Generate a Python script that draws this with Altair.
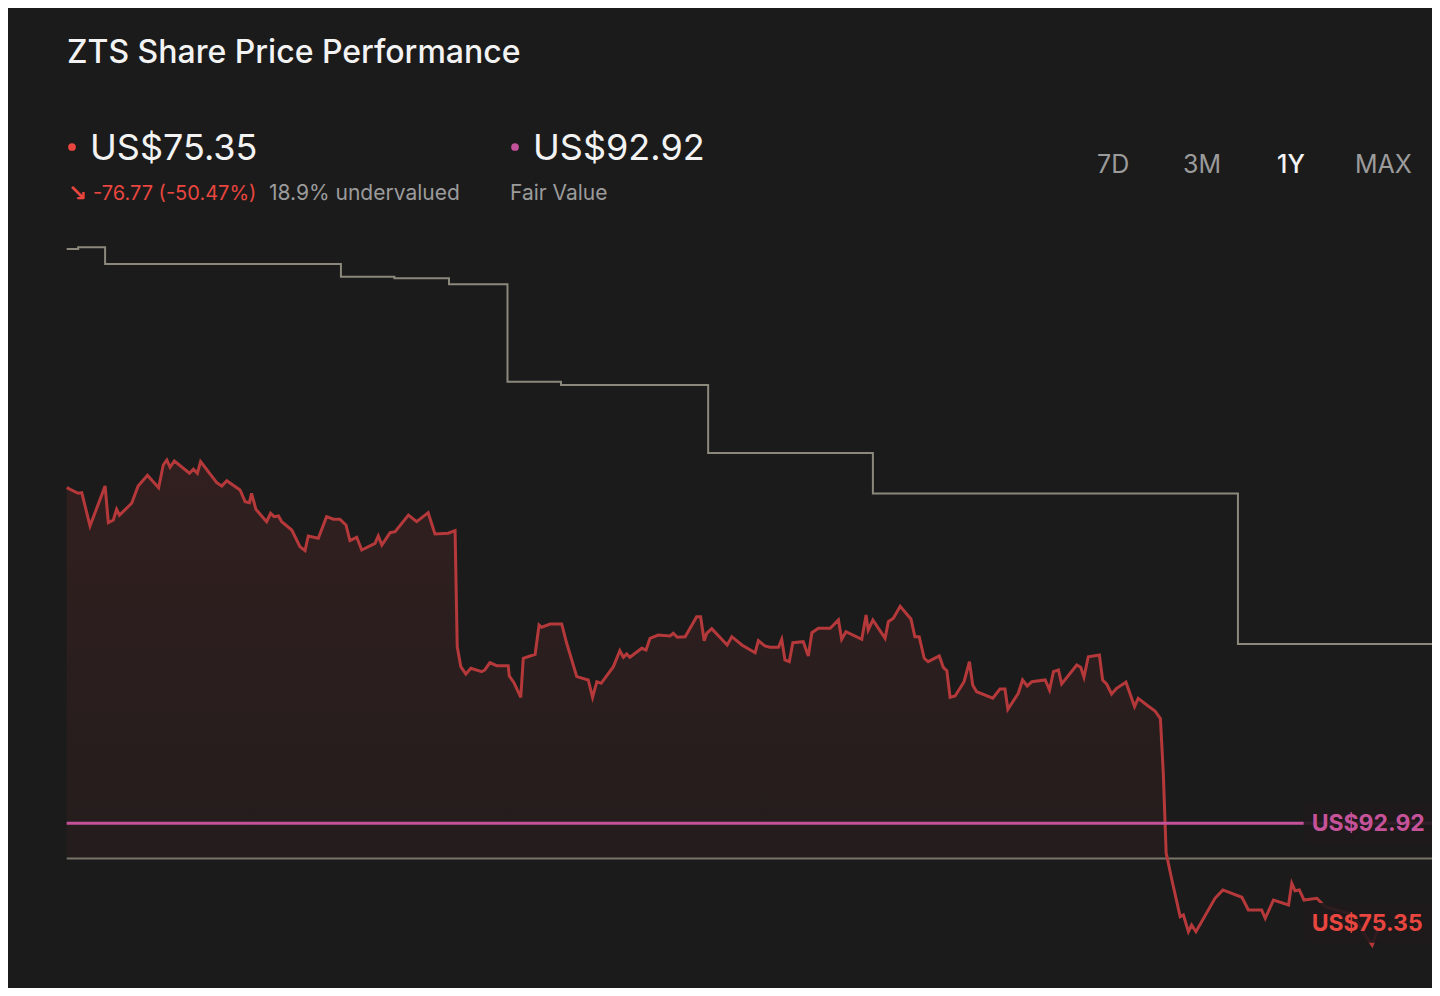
import altair as alt
import pandas as pd

# ---- data ----
days = [
    0, 3.2, 4.2, 6.5, 10.7, 11.6, 13.0, 13.9, 14.7, 18.1,
    19.9, 22.5, 25.6, 26.9, 27.9, 28.8, 30.0, 34.2, 35.3, 36.4,
    37.3, 41.8, 43.2, 44.6, 48.3, 49.7, 50.9, 51.5, 52.7, 55.7,
    56.8, 57.8, 59.0, 59.9, 62.7, 65.0, 66.4, 67.3, 70.1, 72.4,
    74.3, 76.1, 77.8, 78.9, 80.8, 82.2, 85.9, 86.8, 87.8, 90.1,
    91.5, 95.2, 97.5, 100.7, 102.6, 106.3, 108.2, 108.8, 109.8, 111.2,
    112.6, 115.6, 116.5, 117.9, 119.8, 123.0, 123.3, 124.6, 126.5, 127.2,
    130.5, 131.6, 132.3, 134.7, 137.9, 139.3, 142.1, 145.3, 146.5, 147.7,
    148.9, 152.3, 154.1, 155.1, 156.0, 156.9, 160.2, 161.4, 162.5, 164.8,
    168.1, 169.0, 170.1, 172.3, 175.5, 176.6, 177.6, 178.3, 179.7, 184.0,
    185.3, 188.1, 191.8, 192.7, 194.5, 195.9, 198.3, 199.2, 200.1, 201.3,
    202.3, 205.2, 206.6, 207.6, 209.4, 212.7, 215.0, 215.9, 217.1, 221.5,
    222.7, 223.3, 224.6, 228.0, 228.9, 230.3, 232.2, 235.2, 236.3, 237.5,
    238.9, 240.0, 243.1, 244.2, 245.2, 246.1, 247.5, 250.0, 251.5, 252.4,
    253.5, 258.0, 260.0, 261.4, 262.2, 265.1, 266.3, 267.6, 268.9, 272.6,
    273.8, 274.9, 276.3, 277.2, 281.4, 282.5, 283.4, 284.6, 287.7, 288.6,
    289.7, 291.1, 292.5, 295.1, 297.5, 298.5, 300.9, 303.2, 304.7, 305.5,
    306.3, 307.9, 310.2, 311.1, 312.5, 313.4, 314.6, 319.9, 322.1, 327.4,
    329.2, 332.9, 333.9, 336.2, 340.4, 341.3, 342.2, 343.4, 344.7, 348.3,
    350.6, 354.8, 358.4, 361.7, 363.7, 365.9,
]
prices = [
    152.12, 151.13, 151.24, 145.37, 152.42, 145.95, 146.42, 148.31, 147.27, 149.37,
    152.42, 154.31, 152.12, 156.12, 157.01, 155.72, 156.83, 154.66, 155.37, 154.66,
    156.71, 153.00, 152.42, 153.35, 151.71, 149.65, 149.47, 151.13, 148.31, 146.12,
    147.60, 147.00, 147.13, 146.12, 144.66, 141.71, 141.01, 143.60, 143.20, 147.00,
    146.55, 146.55, 145.54, 142.77, 143.37, 141.13, 142.31, 143.60, 142.01, 144.18,
    144.36, 147.27, 146.12, 147.71, 143.95, 144.08, 144.54, 124.08, 120.55, 119.26,
    120.27, 119.67, 119.97, 121.26, 120.73, 120.73, 118.91, 117.73, 115.15, 122.03,
    122.74, 127.90, 127.50, 128.08, 128.08, 124.68, 118.79, 118.20, 115.15, 117.90,
    117.62, 120.55, 123.37, 122.21, 122.79, 122.21, 123.79, 123.50, 125.56, 126.14,
    125.96, 126.44, 125.74, 125.84, 129.37, 129.37, 125.14, 126.44, 127.25, 124.38,
    125.84, 124.38, 123.02, 125.14, 124.20, 123.97, 123.97, 125.38, 121.73, 121.43,
    124.78, 124.96, 122.44, 126.55, 127.32, 127.32, 128.79, 125.38, 126.72, 125.38,
    129.67, 127.02, 128.79, 125.56, 128.49, 129.09, 131.20, 128.96, 125.84, 125.84,
    122.03, 121.43, 122.44, 120.44, 119.85, 115.15, 115.38, 117.90, 121.43, 117.32,
    116.14, 114.98, 116.62, 116.62, 113.04, 115.86, 118.20, 117.15, 117.90, 118.20,
    116.44, 119.67, 119.97, 117.50, 120.85, 120.44, 118.68, 122.31, 122.61, 118.20,
    117.50, 115.73, 116.74, 117.82, 113.49, 114.98, 113.79, 112.74, 111.41, 101.80,
    87.69, 82.93, 76.46, 76.76, 73.81, 74.99, 73.81, 79.70, 81.17, 79.88,
    77.64, 77.64, 76.18, 79.40, 78.52, 82.35, 81.04, 81.17, 79.40, 79.70,
    78.22, 77.46, 76.76, 73.23, 71.47, 75.35,
]

step_days = [0, 3.2, 10.7, 76.4, 91.3, 106.5, 122.8, 137.7, 178.7, 224.6, 326.3, 383]
step_vals = [194.22, 194.52, 191.57, 189.33, 189.05, 187.99, 170.82, 170.23, 158.24, 151.10, 124.55, 124.55]

fair_value = 92.92
last_price = 75.35
baseline_value = 86.72
day_start = 0
day_end = 383

label_texts = ["US$92.92", "US$75.35"]
label_values = [92.92, 75.35]
label_half = [3.7, 3.5]
label_colors = ["#c6539a", "#e8463f"]
label_day = 344.6

# ---- colours ----
BG = "#1b1b1b"
RED_LINE = "#b5393a"
STEP = "#8c887c"
PINK = "#c4529a"
RED_TXT = "#e8463f"
GREY_TXT = "#9b9b9b"
WHITE = "#f3f3f3"
FONT = "Inter"

price_df = pd.DataFrame({"day": days, "price": prices})
step_df = pd.DataFrame({"day": step_days, "value": step_vals})
rules_df = pd.DataFrame({
    "d0": [day_start, day_start],
    "d1": [day_end, day_end],
    "v": [baseline_value, fair_value],
    "kind": ["base", "fair"],
})
lab_df = pd.DataFrame({
    "text": label_texts,
    "v": label_values,
    "lo": [v - h for v, h in zip(label_values, label_half)],
    "hi": [v + h for v, h in zip(label_values, label_half)],
    "d0": [label_day, label_day],
    "d1": [day_end, day_end],
    "color": label_colors,
})

xs = alt.Scale(domain=[0, 380], range=[58.7, 1422.7], nice=False, zero=False)
ys = alt.Scale(domain=[60, 200], range=[1002.0, 208.2], nice=False, zero=False)


def X(f):
    return alt.X(f, type="quantitative", scale=xs, axis=None)


def Y(f):
    return alt.Y(f, type="quantitative", scale=ys, axis=None)


grad = alt.Gradient(
    gradient="linear",
    stops=[
        alt.GradientStop(color="rgba(205,60,60,0.13)", offset=0),
        alt.GradientStop(color="rgba(205,60,60,0.05)", offset=1),
    ],
    x1=1, x2=1, y1=0, y2=1,
)

# fill only above the baseline line
area = alt.Chart(price_df).transform_calculate(
    top=f"max(datum.price, {baseline_value})"
).mark_area(color=grad, clip=True).encode(
    x=X("day"), y=Y("top"), y2=alt.datum(baseline_value)
)

base_rule = alt.Chart(rules_df[rules_df.kind == "base"]).mark_rule(
    color="#78746a", strokeWidth=2, clip=True
).encode(x=X("d0"), x2="d1", y=Y("v"))

step_line = alt.Chart(step_df).mark_line(
    color=STEP, strokeWidth=2, interpolate="step-after", clip=True
).encode(x=X("day"), y=Y("value"))

price_line = alt.Chart(price_df).mark_line(
    color=RED_LINE, strokeWidth=3, strokeJoin="miter", clip=True
).encode(x=X("day"), y=Y("price"))

fair_rule = alt.Chart(rules_df[rules_df.kind == "fair"]).mark_rule(
    color=PINK, strokeWidth=3, clip=True
).encode(x=X("d0"), x2="d1", y=Y("v"))

boxes = alt.Chart(lab_df).mark_rect(
    fill="#1f1a1c", opacity=0.9, cornerRadius=6, clip=True
).encode(x=X("d0"), x2="d1", y=Y("lo"), y2="hi")

labels = alt.Chart(lab_df).mark_text(
    align="left", baseline="middle", dx=8, dy=1, fontSize=23, fontWeight=700,
    font=FONT, clip=True
).encode(
    x=X("d0"), y=Y("v"), text="text:N",
    color=alt.Color("color:N", scale=None),
)


# ---- header texts ----
def txt(s, x, y, size, color, weight=400, font=FONT):
    return alt.Chart(pd.DataFrame({"t": [s]})).mark_text(
        align="left", baseline="alphabetic", fontSize=size, fontWeight=weight,
        color=color, font=font
    ).encode(x=alt.value(x), y=alt.value(y), text="t:N")


def dot(x, y, color):
    return alt.Chart(pd.DataFrame({"t": [0]})).mark_circle(
        size=60, color=color, opacity=1
    ).encode(x=alt.value(x), y=alt.value(y))


header = [
    txt("ZTS Share Price Performance", 59, 55, 32, WHITE, 500),
    dot(64, 139, RED_TXT),
    txt("US$75.35", 82, 152, 36, WHITE, 400),
    txt("↘", 60, 193, 23, RED_TXT, 700, "DejaVu Sans"),
    txt("-76.77 (-50.47%)", 85, 192, 20, RED_TXT, 400),
    txt("18.9% undervalued", 261, 192, 21, GREY_TXT, 400),
    dot(507, 139, PINK),
    txt("US$92.92", 525, 152, 36, WHITE, 400),
    txt("Fair Value", 502, 192, 21, GREY_TXT, 400),
    txt("7D", 1089, 165, 25, GREY_TXT, 400),
    txt("3M", 1175, 165, 25, GREY_TXT, 400),
    txt("1Y", 1269, 165, 25, WHITE, 500),
    txt("MAX", 1347, 165, 25, GREY_TXT, 400),
]

chart = alt.layer(
    area, base_rule, step_line, price_line, fair_rule, boxes, labels, *header
).properties(
    width=1424, height=980,
    autosize=alt.AutoSizeParams(type="none"),
    padding=0,
    background=BG,
).configure_view(stroke=None)

chart.save("out.html", embed_options={"renderer": "svg", "actions": False})
